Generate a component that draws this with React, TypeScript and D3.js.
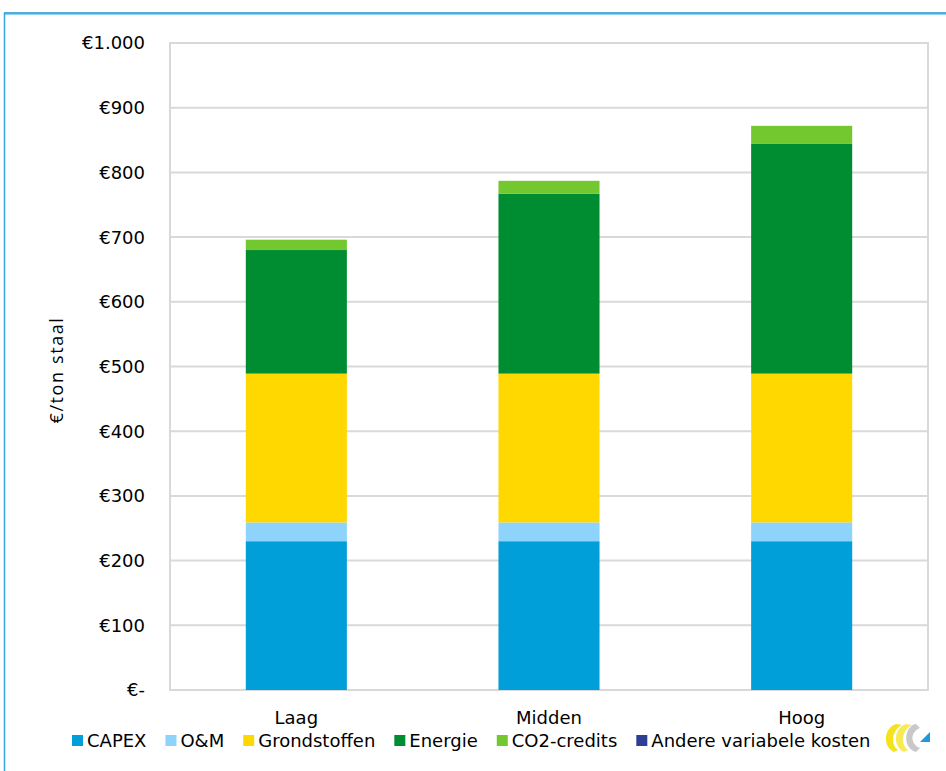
import React, { useEffect, useRef } from "react";
import * as d3 from "d3";

const categories = ["Laag", "Midden", "Hoog"];
const seriesNames = ["CAPEX", "O&M", "Grondstoffen", "Energie", "CO2-credits", "Andere variabele kosten"];
const capex = [230, 230, 230];
const om = [29, 29, 29];
const grondstoffen = [230, 230, 230];
const energie = [191, 278, 355];
const co2 = [16, 20, 28];
const andere = [0, 0, 0];
const colors = ["#009FDA", "#8DD3FB", "#FFD800", "#008D32", "#73C72F", "#2E3E94"];
const yTicks = [0, 100, 200, 300, 400, 500, 600, 700, 800, 900, 1000];

const W = 946, H = 771;
const FONT = "'DejaVu Sans', Verdana, sans-serif";

export default function App() {
  const ref = useRef<SVGSVGElement>(null);
  useEffect(() => {
    const svg = d3.select(ref.current);
    svg.selectAll("*").remove();
    const left = 170, right = 928, top = 43, bottom = 690;

    svg.append("rect").attr("x", 0).attr("y", 0).attr("width", W).attr("height", H).attr("fill", "#fff");
    svg.append("line").attr("x1", 4).attr("x2", W).attr("y1", 13).attr("y2", 13).attr("stroke", "#1A8FC9").attr("stroke-width", 1.5);
    svg.append("line").attr("x1", 4).attr("x2", W).attr("y1", 14.5).attr("y2", 14.5).attr("stroke", "#8FD3F5").attr("stroke-width", 1.2);
    svg.append("line").attr("x1", 4.5).attr("x2", 4.5).attr("y1", 13).attr("y2", H).attr("stroke", "#35A7DD").attr("stroke-width", 1.5);

    const y = d3.scaleLinear().domain([0, 1000]).range([bottom, top]);
    const x = d3.scaleBand().domain(categories).range([left, right]).paddingInner(0.6).paddingOuter(0.3);

    const g = svg.append("g");
    g.selectAll("line.grid").data(yTicks).join("line")
      .attr("x1", left).attr("x2", right)
      .attr("y1", d => y(d)).attr("y2", d => y(d))
      .attr("stroke", "#D9D9D9").attr("stroke-width", 2);
    g.append("rect").attr("x", left).attr("y", top).attr("width", right - left).attr("height", bottom - top)
      .attr("fill", "none").attr("stroke", "#D9D9D9").attr("stroke-width", 2);

    const rows = categories.map((c, i) => ({
      cat: c,
      "CAPEX": capex[i], "O&M": om[i], "Grondstoffen": grondstoffen[i],
      "Energie": energie[i], "CO2-credits": co2[i], "Andere variabele kosten": andere[i],
    }));
    const stack = d3.stack<any>().keys(seriesNames)(rows);
    stack.forEach((s, si) => {
      g.append("g").attr("fill", colors[si]).selectAll("rect").data(s).join("rect")
        .attr("x", d => x(d.data.cat)!)
        .attr("width", x.bandwidth())
        .attr("y", d => y(d[1]))
        .attr("height", d => Math.max(0, y(d[0]) - y(d[1])));
    });

    const fmt = (v: number) => v === 0 ? "€-" : "€" + d3.format(",")(v).replace(/,/g, ".");
    g.selectAll("text.yt").data(yTicks).join("text")
      .attr("x", 145).attr("y", d => y(d)).attr("dy", "0.36em")
      .attr("text-anchor", "end").attr("font-family", FONT).attr("font-size", 18).attr("fill", "#000")
      .text(d => fmt(d));

    g.selectAll("text.xt").data(categories).join("text")
      .attr("x", d => x(d)! + x.bandwidth() / 2).attr("y", 724)
      .attr("text-anchor", "middle").attr("font-family", FONT).attr("font-size", 18).attr("fill", "#000")
      .text(d => d);

    svg.append("text").attr("transform", "translate(63,370) rotate(-90)")
      .attr("text-anchor", "middle").attr("font-family", "'Open Sans', sans-serif").attr("font-size", 18)
      .attr("letter-spacing", 1.6).attr("fill", "#000")
      .text("€/ton staal");

    const lg = svg.append("g");
    let cx = 72;
    const ly = 747;
    seriesNames.forEach((n, i) => {
      lg.append("rect").attr("x", cx).attr("y", ly - 12).attr("width", 11).attr("height", 11).attr("fill", colors[i]);
      const t = lg.append("text").attr("x", cx + 15).attr("y", ly).attr("font-family", FONT).attr("font-size", 18).attr("fill", "#000").text(n);
      const w = (t.node() as SVGTextElement).getComputedTextLength();
      cx += 15 + w + 19;
    });

    const logo = svg.append("g").attr("transform", "translate(884,722)");
    logo.append("path").attr("d", "M12,2 C0,6 -2,24 10,30 L14,28 C6,22 8,8 18,3 Z").attr("fill", "#F2E31C");
    logo.append("path").attr("d", "M22,2 C10,6 8,24 20,30 L24,28 C16,22 18,8 28,3 Z").attr("fill", "#F7EB55");
    logo.append("path").attr("d", "M32,2 C20,4 18,26 32,30 L36,26 C26,22 26,10 36,6 Z").attr("fill", "#C8C8C8");
    logo.append("path").attr("d", "M46,10 L46,20 L36,20 Z").attr("fill", "#1F9BDC");
  }, []);
  return (
    <svg ref={ref} width={W} height={H} style={{ position: "absolute", left: 0, top: 0 }} />
  );
}
